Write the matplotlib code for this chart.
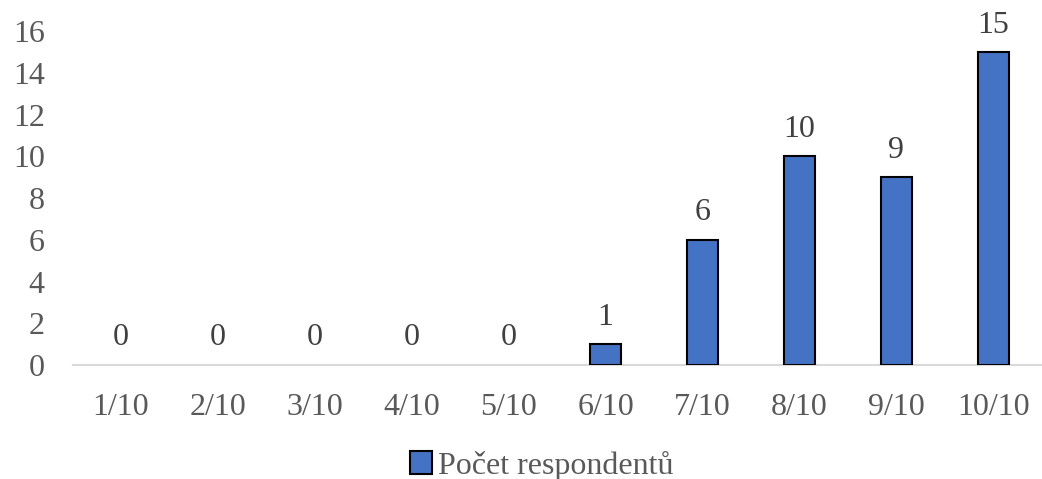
import matplotlib.pyplot as plt

categories = ["1/10", "2/10", "3/10", "4/10", "5/10", "6/10", "7/10", "8/10", "9/10", "10/10"]
counts = [0, 0, 0, 0, 0, 1, 6, 10, 9, 15]
series_name = "Počet respondentů"

plt.rcParams["font.family"] = ["Liberation Serif", "DejaVu Serif"]

fig = plt.figure(figsize=(10.42, 4.79), dpi=100)
ax = fig.add_axes([0.0696, 0.238, 0.93, 0.697])

x = range(len(categories))
# zero-height bars get no outline, like the original
widths = [1.5 if v > 0 else 0 for v in counts]
bars = ax.bar(x, counts, width=0.32, color="#4472C4", edgecolor="black",
              linewidth=widths, label=series_name, zorder=3)

for xi, v in zip(x, counts):
    ax.annotate(str(v), (xi, v), xytext=(0, 9), textcoords="offset points",
                ha="center", va="bottom", fontsize=23, color="#404040")

ax.set_xlim(-0.5, len(categories) - 0.5)
ax.set_ylim(0, 16)
ax.set_yticks(range(0, 17, 2))
ax.set_xticks(list(x))
ax.set_xticklabels(categories)
ax.tick_params(axis="both", length=0, labelsize=23, labelcolor="#595959")
ax.tick_params(axis="x", pad=20)
ax.tick_params(axis="y", pad=20)

for side in ["top", "right", "left"]:
    ax.spines[side].set_visible(False)
ax.spines["bottom"].set_color("#D9D9D9")
ax.spines["bottom"].set_linewidth(1.5)

leg = fig.legend(handles=[bars], labels=[series_name], loc="center",
                 bbox_to_anchor=(0.52, 0.028), frameon=False, fontsize=23,
                 handlelength=0.7, handleheight=0.7, handletextpad=0.2)
leg.legend_handles[0].set_linewidth(1.5)
for t in leg.get_texts():
    t.set_color("#595959")

fig.savefig("out.png", dpi=100)
